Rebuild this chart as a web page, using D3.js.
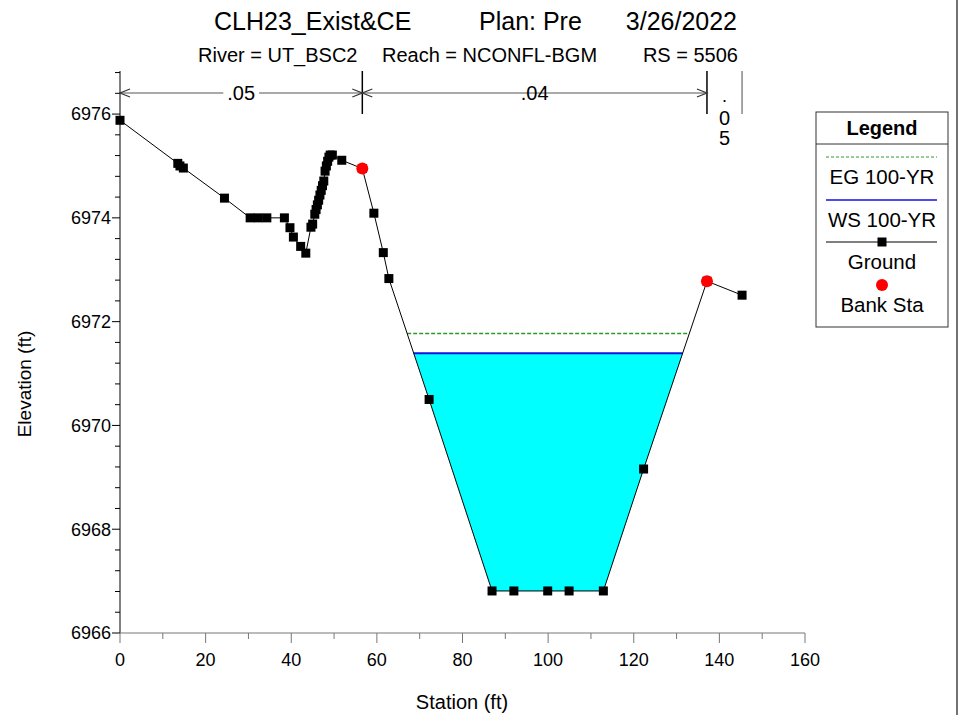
<!DOCTYPE html>
<html><head><meta charset="utf-8">
<script src="https://cdn.jsdelivr.net/npm/d3@7"></script>
<style>
body{margin:0;background:#fff;}
text{font-family:"Liberation Sans",Arial,sans-serif;}
</style></head>
<body><svg id="c" width="959" height="715"></svg>
<script>
// ---- data ----
const groundSta = [0,13.5,14.0,14.8,24.4,30.4,32.3,34.3,38.4,39.7,40.5,42.2,43.4,44.6,45.0,45.5,45.8,46.1,46.4,46.7,47.0,47.3,47.6,47.9,48.2,48.5,48.8,49.1,49.6,51.8,56.6,59.3,61.5,62.8,72.2,86.9,92.0,99.9,104.9,112.9,122.3,137.1,145.3];
const groundElev = [6975.88,6975.05,6975.00,6974.96,6974.38,6974.00,6974.00,6974.00,6974.00,6973.81,6973.63,6973.45,6973.32,6973.82,6973.88,6974.07,6974.16,6974.25,6974.34,6974.44,6974.53,6974.62,6974.71,6974.90,6975.00,6975.09,6975.17,6975.21,6975.21,6975.11,6974.95,6974.09,6973.33,6972.83,6970.50,6966.81,6966.81,6966.81,6966.81,6966.81,6969.16,6972.78,6972.51];
const bankSta = [56.6,137.1];
const bankElev = [6974.95,6972.78];
const wsElev = 6971.39;   // WS 100-YR
const egElev = 6971.77;   // EG 100-YR
const nValues = [".05",".04",".05"];
const xTicks = [0,20,40,60,80,100,120,140,160];
const yTicks = [6966,6968,6970,6972,6974,6976];
const titleParts = ["CLH23_Exist&CE","Plan: Pre","3/26/2022"];
const subParts = ["River = UT_BSC2","Reach = NCONFL-BGM","RS = 5506"];
const legendItems = ["EG 100-YR","WS 100-YR","Ground","Bank Sta"];

const svg = d3.select("#c");
const x = d3.scaleLinear().domain([0,160]).range([120,805]);
const y = d3.scaleLinear().domain([6966,6976.83]).range([633,71]);
const ground = groundSta.map((s,i)=>({s,e:groundElev[i]}));

// right frame line
svg.append("line").attr("x1",957).attr("x2",957).attr("y1",0).attr("y2",715).attr("stroke","#444").attr("stroke-width",1.5);

// ---- titles ----
svg.append("text").attr("x",214).attr("y",30).attr("font-size",25).text(titleParts[0]);
svg.append("text").attr("x",479).attr("y",30).attr("font-size",25).text(titleParts[1]);
svg.append("text").attr("x",737).attr("y",30).attr("text-anchor","end").attr("font-size",25).text(titleParts[2]);
svg.append("text").attr("x",198).attr("y",62).attr("font-size",20).text(subParts[0]);
svg.append("text").attr("x",382).attr("y",62).attr("font-size",20).text(subParts[1]);
svg.append("text").attr("x",738).attr("y",62).attr("text-anchor","end").attr("font-size",20).text(subParts[2]);

// ---- water fill ----
function crossings(level){
  const pts=[];
  for(let i=0;i<ground.length-1;i++){
    const a=ground[i],b=ground[i+1];
    if((a.e-level)*(b.e-level)<0){
      const t=(level-a.e)/(b.e-a.e);
      pts.push(a.s+t*(b.s-a.s));
    }
  }
  return pts;
}
const wsX = crossings(wsElev);
const egX = crossings(egElev);
const wetL = wsX[0], wetR = wsX[wsX.length-1];
const poly=[[wetL,wsElev]];
ground.forEach(p=>{ if(p.s>wetL && p.s<wetR) poly.push([p.s,p.e]); });
poly.push([wetR,wsElev]);
svg.append("path").attr("d",d3.line().x(d=>x(d[0])).y(d=>y(d[1]))(poly)+"Z").attr("fill","#00ffff").attr("stroke","none");

// EG and WS lines
svg.append("line").attr("x1",x(egX[0])).attr("x2",x(egX[egX.length-1])).attr("y1",y(egElev)).attr("y2",y(egElev))
  .attr("stroke","#2a9a2a").attr("stroke-width",1.5).attr("stroke-dasharray","4,2");
svg.append("line").attr("x1",x(wetL)).attr("x2",x(wetR)).attr("y1",y(wsElev)).attr("y2",y(wsElev))
  .attr("stroke","#1010e0").attr("stroke-width",2);

// ---- axes ----
const axG = svg.append("g");
axG.append("line").attr("x1",120).attr("x2",120).attr("y1",71).attr("y2",633).attr("stroke","#000");
d3.range(6966,6976.9,0.4).forEach(v=>{
  const major = Math.abs(v-Math.round(v/2)*2)<1e-6;
  axG.append("line").attr("x1",major?112:115).attr("x2",120).attr("y1",y(v)).attr("y2",y(v)).attr("stroke","#000");
});
yTicks.forEach(v=>{
  axG.append("text").attr("x",111).attr("y",y(v)).attr("dy","0.35em").attr("text-anchor","end").attr("font-size",18).text(v);
});
axG.append("line").attr("x1",120).attr("x2",805).attr("y1",633).attr("y2",633).attr("stroke","#777");
d3.range(0,161,10).forEach(v=>{
  const major = v%20===0;
  axG.append("line").attr("x1",x(v)).attr("x2",x(v)).attr("y1",633).attr("y2",major?643:639).attr("stroke","#777");
});
xTicks.forEach(v=>{
  axG.append("text").attr("x",x(v)).attr("y",666).attr("text-anchor","middle").attr("font-size",18).text(v);
});
svg.append("text").attr("x",462).attr("y",709).attr("text-anchor","middle").attr("font-size",20).text("Station (ft)");
svg.append("text").attr("transform","translate(31,384) rotate(-90)").attr("text-anchor","middle").attr("font-size",19).text("Elevation (ft)");

// ---- Manning's n annotation ----
const nBounds=[groundSta[0],bankSta[0],bankSta[1],groundSta[groundSta.length-1]];
const ay=93;
const nG=svg.append("g");
[1,2].forEach(i=>nG.append("line").attr("x1",x(nBounds[i])).attr("x2",x(nBounds[i])).attr("y1",71).attr("y2",114).attr("stroke","#000").attr("stroke-width",1.5));
nG.append("line").attr("x1",x(nBounds[3])).attr("x2",x(nBounds[3])).attr("y1",71).attr("y2",114).attr("stroke","#888").attr("stroke-width",1.5);
function arrowHead(px,dir){
  nG.append("path").attr("d",`M${px+dir*10},${ay-4}L${px},${ay}L${px+dir*10},${ay+4}`).attr("fill","none").attr("stroke","#333").attr("stroke-width",1.2);
}
for(let i=0;i<2;i++){
  const a=x(nBounds[i]),b=x(nBounds[i+1]);
  nG.append("line").attr("x1",a).attr("x2",b).attr("y1",ay).attr("y2",ay).attr("stroke","#555");
  arrowHead(a,1); arrowHead(b,-1);
  const t=nG.append("text").attr("x",(a+b)/2).attr("y",ay).attr("dy","0.35em").attr("text-anchor","middle").attr("font-size",20).text(nValues[i]);
  const bb=t.node().getBBox();
  nG.insert("rect","text").attr("x",bb.x-4).attr("y",bb.y).attr("width",bb.width+8).attr("height",bb.height).attr("fill","#fff");
}
// narrow segment: stacked vertical text
const cx3=(x(nBounds[2])+x(nBounds[3]))/2;
nG.append("text").attr("x",cx3).attr("y",102).attr("text-anchor","middle").attr("font-size",18).text(nValues[2][0]);
nG.append("text").attr("x",cx3).attr("y",125).attr("text-anchor","middle").attr("font-size",20).text(nValues[2][1]);
nG.append("text").attr("x",cx3).attr("y",145).attr("text-anchor","middle").attr("font-size",20).text(nValues[2][2]);

// ---- ground ----
svg.append("path").datum(ground).attr("d",d3.line().x(d=>x(d.s)).y(d=>y(d.e))).attr("fill","none").attr("stroke","#000").attr("stroke-width",1);
svg.selectAll("rect.g").data(ground).join("rect").attr("class","g")
  .attr("x",d=>x(d.s)-4.5).attr("y",d=>y(d.e)-4.5).attr("width",9).attr("height",9).attr("fill","#000");
svg.selectAll("circle.b").data(bankSta).join("circle").attr("class","b")
  .attr("cx",d=>x(d)).attr("cy",(d,i)=>y(bankElev[i])).attr("r",6).attr("fill","#ff0000");

// ---- legend ----
const L=svg.append("g");
L.append("rect").attr("x",816).attr("y",112).attr("width",132).attr("height",215).attr("fill","#fff").attr("stroke","#333");
L.append("line").attr("x1",816).attr("x2",948).attr("y1",144).attr("y2",144).attr("stroke","#333");
L.append("text").attr("x",882).attr("y",128).attr("dy","0.35em").attr("text-anchor","middle").attr("font-size",20).attr("font-weight","bold").text("Legend");
L.append("line").attr("x1",826).attr("x2",937).attr("y1",157).attr("y2",157).attr("stroke","#2a9a2a").attr("stroke-dasharray","3,2");
L.append("line").attr("x1",826).attr("x2",937).attr("y1",200).attr("y2",200).attr("stroke","#1010e0").attr("stroke-width",1.5);
L.append("line").attr("x1",826).attr("x2",937).attr("y1",242).attr("y2",242).attr("stroke","#000");
L.append("rect").attr("x",877.5).attr("y",237.5).attr("width",9).attr("height",9).attr("fill","#000");
L.append("circle").attr("cx",882).attr("cy",285).attr("r",6).attr("fill","#ff0000");
[177,220,262,305].forEach((yy,i)=>{
  L.append("text").attr("x",882).attr("y",yy).attr("dy","0.35em").attr("text-anchor","middle").attr("font-size",20.5).text(legendItems[i]);
});
</script></body></html>
